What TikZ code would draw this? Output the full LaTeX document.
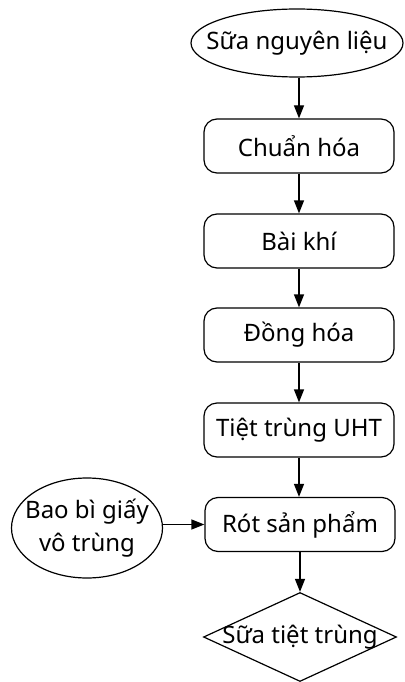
\documentclass[tikz,border=0pt]{standalone}
\usepackage{fontspec}
\setmainfont{Noto Sans}
\usetikzlibrary{shapes.geometric,arrows.meta}
\begin{document}
\begin{tikzpicture}[x=1pt,y=-1pt,
  every node/.style={font=\fontsize{24}{33}\selectfont, inner sep=0pt},
  stepbox/.style={draw, rounded corners=13pt, minimum width=190pt, minimum height=54pt, line width=1.2pt},
  oval/.style={draw, ellipse, inner sep=-30pt, line width=1.2pt},
  dia/.style={draw, diamond, inner sep=-40pt, minimum width=193pt, minimum height=89pt, line width=1.2pt},
  arr/.style={-{Triangle[length=13pt,width=10pt]}, line width=1.2pt}]
\useasboundingbox (0,0) rectangle (404,682);
\node[oval, minimum width=212pt, minimum height=68pt] (a) at (297,43) {Sữa nguyên liệu};
\node[stepbox] (b) at (299,146) {Chuẩn hóa};
\node[stepbox] (c) at (299,241) {Bài khí};
\node[stepbox] (d) at (299,335) {Đồng hóa};
\node[stepbox] (e) at (299,430) {Tiệt trùng UHT};
\node[stepbox] (f) at (300,524.5) {Rót sản phẩm};
\node[dia] (g) at (300,637) {Sữa tiệt trùng};
\node[oval, minimum width=151pt, minimum height=100pt, align=center] (h) at (87,528) {Bao bì giấy\\vô trùng};
\draw[arr] (a.south -| b.north) -- (b.north);
\draw[arr] (b) -- (c);
\draw[arr] (c) -- (d);
\draw[arr] (d) -- (e);
\draw[arr] (e.south) -- (e.south |- f.north);
\draw[arr] (f) -- (g);
\draw[arr] (h.east |- f.west) -- (f.west);
\end{tikzpicture}
\end{document}
